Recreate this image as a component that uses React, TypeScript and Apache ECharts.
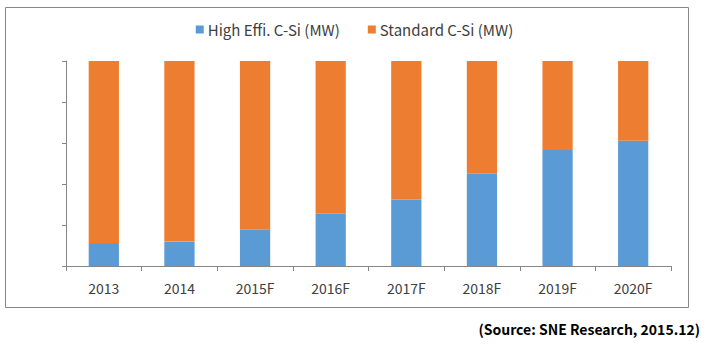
import React, { useEffect, useRef } from "react";
import * as echarts from "echarts";

const categories = ["2013", "2014", "2015F", "2016F", "2017F", "2018F", "2019F", "2020F"];
const highEffi = [11.2, 11.9, 17.7, 25.5, 32.5, 45.0, 56.6, 61.1];
const standard = [88.8, 88.1, 82.3, 74.5, 67.5, 55.0, 43.4, 38.9];
const seriesNames = ["High Effi. C-Si (MW)", "Standard C-Si (MW)"];
const sourceText = "(Source: SNE Research, 2015.12)";

const FONT = "'Noto Sans CJK KR', 'Noto Sans', sans-serif";
const AXIS = "#868686";

export default function App() {
  const ref = useRef<HTMLDivElement>(null);
  useEffect(() => {
    document.body.style.margin = "0";
    const chart = echarts.init(ref.current!, undefined, { renderer: "svg" });
    chart.setOption({
      animation: false,
      backgroundColor: "#ffffff",
      textStyle: { fontFamily: FONT },
      legend: {
        top: 17,
        left: "center",
        itemWidth: 8,
        itemHeight: 8,
        itemGap: 28,
        icon: "rect",
        textStyle: { fontFamily: FONT, fontSize: 15, color: "#404040", padding: [0, 0, 0, -1] },
        data: seriesNames,
      },
      grid: { left: 66, right: 38, top: 61, bottom: 89, containLabel: false },
      xAxis: {
        type: "category",
        data: categories,
        boundaryGap: true,
        axisLine: { show: true, lineStyle: { color: AXIS, width: 1 } },
        axisTick: { show: true, length: 5, lineStyle: { color: AXIS } },
        axisLabel: { fontFamily: FONT, fontSize: 14, color: "#404040", margin: 15 },
        splitLine: { show: false },
      },
      yAxis: {
        type: "value",
        min: 0,
        max: 100,
        interval: 20,
        axisLine: { show: true, lineStyle: { color: AXIS, width: 1 } },
        axisTick: { show: true, length: 4, lineStyle: { color: AXIS } },
        axisLabel: { show: false },
        splitLine: { show: false },
      },
      series: [
        {
          name: seriesNames[0],
          type: "bar",
          stack: "total",
          barWidth: "40%",
          itemStyle: { color: "#5B9BD5" },
          data: highEffi,
        },
        {
          name: seriesNames[1],
          type: "bar",
          stack: "total",
          barWidth: "40%",
          itemStyle: { color: "#ED7D31" },
          data: standard,
        },
      ],
      graphic: [
        {
          type: "rect",
          shape: { x: 5.5, y: 7.5, width: 683, height: 300 },
          style: { fill: "none", stroke: AXIS, lineWidth: 1 },
          silent: true,
        },
        {
          type: "text",
          right: 9,
          top: 322,
          style: {
            text: sourceText,
            font: `bold 14px ${FONT}`,
            fill: "#000000",
          },
        },
      ],
    });
    return () => chart.dispose();
  }, []);
  return <div ref={ref} style={{ position: "absolute", left: 0, top: 0, width: 709, height: 355 }} />;
}
